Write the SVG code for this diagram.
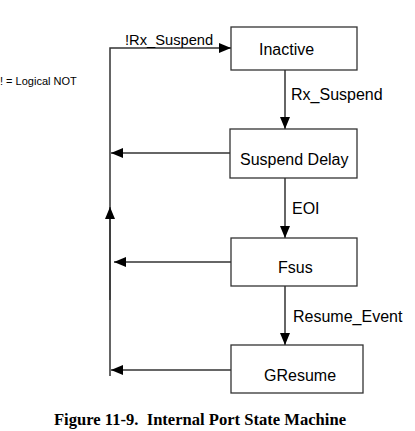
<svg xmlns="http://www.w3.org/2000/svg" width="415" height="431" viewBox="0 0 415 431">
<style>
.box{fill:#fff;stroke:#333;stroke-width:1.3}
.ln{fill:none;stroke:#333;stroke-width:1.5}
.t{font-family:"Liberation Sans",Arial,sans-serif;font-size:16px;fill:#000}
.s{font-family:"Liberation Sans",Arial,sans-serif;font-size:11px;fill:#000}
.c{font-family:"Liberation Serif","Times New Roman",serif;font-size:16px;font-weight:bold;fill:#000}
</style>
<defs>
<marker id="ah" viewBox="0 0 12 10" refX="12" refY="5" markerWidth="12" markerHeight="10" markerUnits="userSpaceOnUse" orient="auto">
<path d="M0,0 L12,5 L0,10 z" fill="#000"/>
</marker>
</defs>
<rect width="415" height="431" fill="#fff"/>
<g id="connectors">
<path class="ln" d="M110,376 L110,48 L231,48" marker-end="url(#ah)"/>
<path class="ln" d="M110,300 L110,207" marker-end="url(#ah)"/>
<path class="ln" d="M285,70 L285,129" marker-end="url(#ah)"/>
<path class="ln" d="M285,178 L285,238" marker-end="url(#ah)"/>
<path class="ln" d="M285,286 L285,345" marker-end="url(#ah)"/>
<path class="ln" d="M230,153 L111,153" marker-end="url(#ah)"/>
<path class="ln" d="M231,262 L114,262" marker-end="url(#ah)"/>
<path class="ln" d="M231,370 L111,370" marker-end="url(#ah)"/>
<text class="t" x="125" y="45" style="font-size:14.7px">!Rx_Suspend</text>
<text class="t" x="291" y="100">Rx_Suspend</text>
<text class="t" x="292" y="214">EOI</text>
<text class="t" x="293" y="322">Resume_Event</text>
</g>
<text class="s" x="0" y="85">! = Logical NOT</text>
<g id="inactive">
<rect class="box" x="231" y="27" width="126" height="43"/>
<text class="t" x="259" y="55">Inactive</text>
</g>
<g id="suspend_delay">
<rect class="box" x="230" y="129" width="127" height="49"/>
<text class="t" x="240" y="165">Suspend Delay</text>
</g>
<g id="fsus">
<rect class="box" x="231" y="238" width="126" height="48"/>
<text class="t" x="278" y="273">Fsus</text>
</g>
<g id="gresume">
<rect class="box" x="231" y="345" width="132" height="48"/>
<text class="t" x="264" y="381">GResume</text>
</g>
<text class="c" x="54" y="425" xml:space="preserve" textLength="292" lengthAdjust="spacingAndGlyphs">Figure 11-9.  Internal Port State Machine</text>
</svg>
